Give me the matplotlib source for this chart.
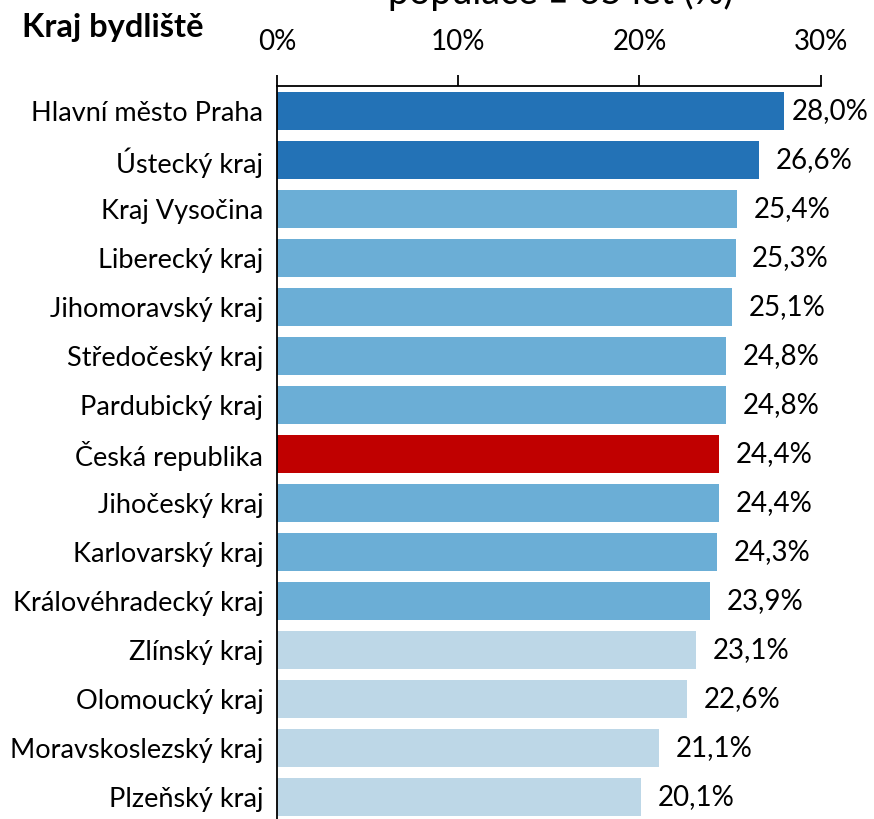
import matplotlib.pyplot as plt
import numpy as np

plt.rcParams['font.family'] = ['Lato', 'DejaVu Sans']

kraje = ['Hlavní město Praha', 'Ústecký kraj', 'Kraj Vysočina', 'Liberecký kraj',
         'Jihomoravský kraj', 'Středočeský kraj', 'Pardubický kraj', 'Česká republika',
         'Jihočeský kraj', 'Karlovarský kraj', 'Královéhradecký kraj', 'Zlínský kraj',
         'Olomoucký kraj', 'Moravskoslezský kraj', 'Plzeňský kraj']
podil = [28.0, 26.6, 25.4, 25.3, 25.1, 24.8, 24.8, 24.4, 24.4, 24.3, 23.9, 23.1, 22.6, 21.1, 20.1]
skupina = ['high', 'high', 'mid', 'mid', 'mid', 'mid', 'mid', 'cr', 'mid', 'mid', 'mid',
           'low', 'low', 'low', 'low']

barvy = {'high': '#2372B6', 'mid': '#6BAED6', 'low': '#BDD7E7', 'cr': '#C00000'}

fig = plt.figure(figsize=(8.74, 8.19), dpi=100)
ax = fig.add_axes([0.317, -0.003, 0.622, 0.898])

pos = np.arange(len(kraje))
ax.barh(pos, podil, height=0.76, color=[barvy[s] for s in skupina])

for p, v in zip(pos, podil):
    # posledni popisek by se nevesel, Excel ho prisune k sloupci
    off = 5 if v > 27.5 else 12
    ax.annotate(f'{v:.1f}%'.replace('.', ','), (v, p), xytext=(off, 0),
                textcoords='offset points', va='center', ha='left', fontsize=20)

ax.set_xlim(0, 30)
ax.set_ylim(14.5, -0.51)
ax.set_yticks(pos)
ax.set_yticklabels(kraje, fontsize=19.5)
ax.tick_params(axis='y', length=0, pad=10)
ax.xaxis.tick_top()
ax.set_xticks([0, 10, 20, 30])
ax.set_xticklabels(['0%', '10%', '20%', '30%'], fontsize=20)
ax.tick_params(axis='x', length=8, width=1.3, pad=14)

ax.spines['right'].set_visible(False)
ax.spines['bottom'].set_visible(False)
ax.spines['top'].set_linewidth(1.3)
ax.spines['left'].set_linewidth(1.3)

fig.text(0.129, 0.966, 'Kraj bydliště', fontsize=23.5, fontweight='bold', ha='center', va='center')
# nadpis je v originale nahore oriznuty
fig.text(0.642, 0.9955, 'populace ≥ 65 let (%)', fontsize=27, ha='center', va='baseline')

fig.savefig('out.png', dpi=100)
